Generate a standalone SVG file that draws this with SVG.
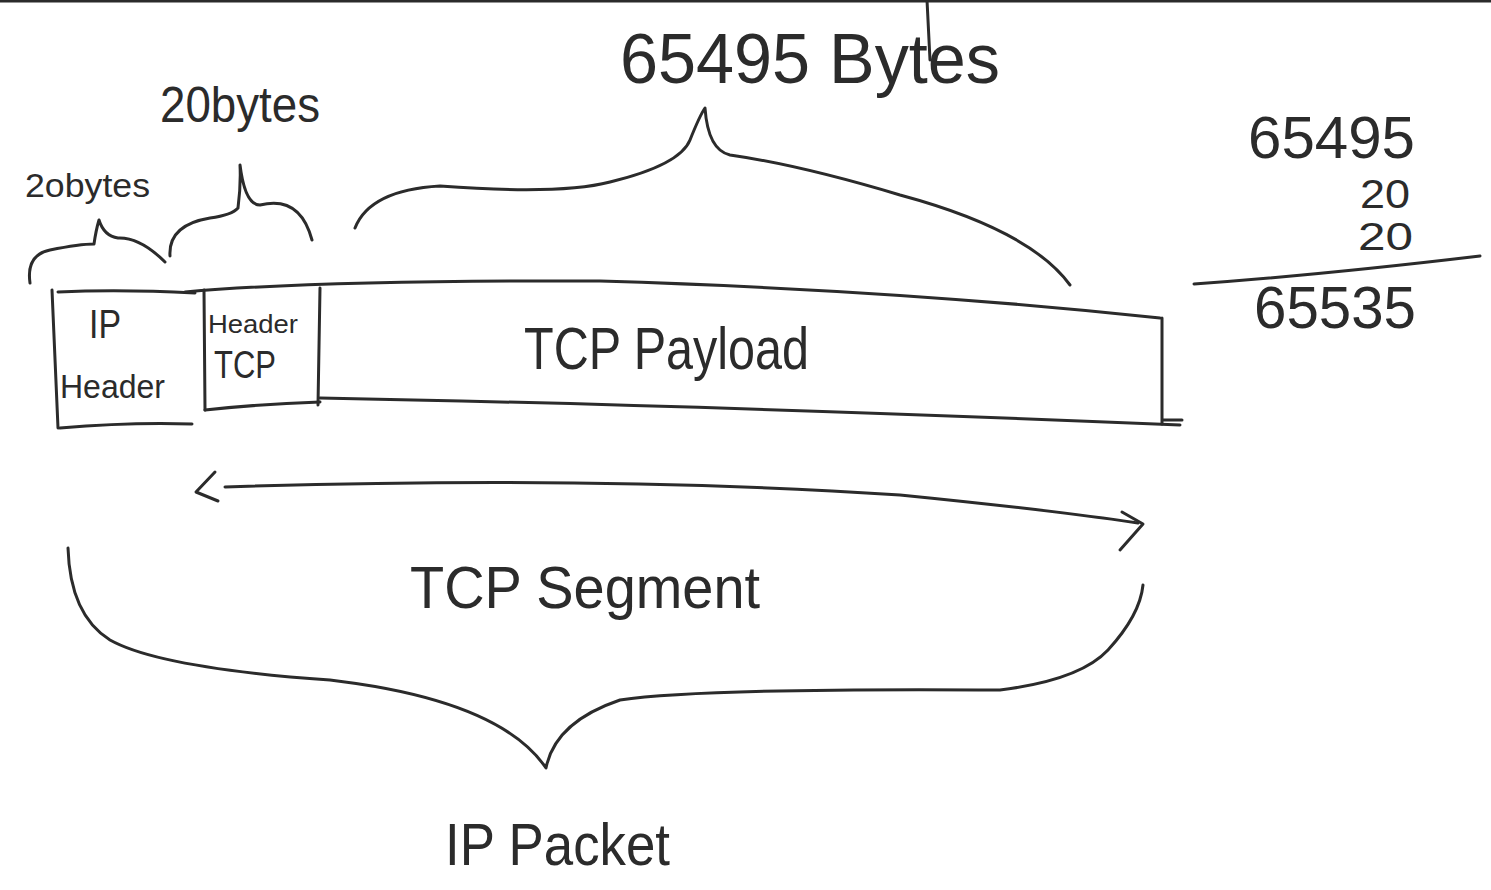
<svg xmlns="http://www.w3.org/2000/svg" width="1491" height="890" viewBox="0 0 1491 890">
<style>
.s{fill:none;stroke:#2b2b2b;stroke-width:3;stroke-linecap:round;stroke-linejoin:round}
.t{font-family:"Liberation Sans","DejaVu Sans",sans-serif;fill:#2b2b2b;font-weight:normal}
</style>
<rect width="1491" height="890" fill="#ffffff"/>
<path class="s" d="M0 1 L1491 1" stroke-width="2"/>
<g id="ip-header">
<path class="s" d="M52 290 L58 428"/>
<path class="s" d="M58 292 Q120 289 195 293"/>
<path class="s" d="M60 428 Q130 422 192 424"/>
<text class="t" x="89" y="338" font-size="40" textLength="32" lengthAdjust="spacingAndGlyphs">IP</text>
<text class="t" x="60" y="398" font-size="34" textLength="105" lengthAdjust="spacingAndGlyphs">Header</text>
</g>
<g id="tcp-header">
<path class="s" d="M204 290 L205 410"/>
<path class="s" d="M205 410 Q260 404 320 402"/>
<path class="s" d="M320 288 L318 405"/>
<text class="t" x="208" y="333" font-size="26" textLength="90" lengthAdjust="spacingAndGlyphs">Header</text>
<text class="t" x="214" y="378" font-size="38" textLength="62" lengthAdjust="spacingAndGlyphs">TCP</text>
</g>
<g id="tcp-payload">
<path class="s" d="M185 292 Q320 280 600 281 Q900 290 1160 318"/>
<path class="s" d="M320 398 Q700 405 1180 425"/>
<path class="s" d="M1162 318 L1162 424"/>
<path class="s" d="M1163 420 L1182 420"/>
<text class="t" x="524" y="369" font-size="60" textLength="285" lengthAdjust="spacingAndGlyphs">TCP Payload</text>
</g>
<g id="connectors">
<path class="s" d="M30 283 Q26 255 50 250 Q80 244 94 244 Q96 230 99 220 Q104 236 118 238 Q140 237 165 262"/>
<path class="s" d="M170 256 Q168 225 210 218 Q232 215 238 208 Q241 185 240 165 Q245 205 260 205 Q300 195 312 240"/>
<path class="s" d="M355 228 Q370 190 440 186 Q560 195 610 182 Q680 165 690 140 Q700 115 705 108 Q708 150 730 155 Q800 165 900 195 Q1030 230 1070 285"/>
<path class="s" d="M225 487 Q600 475 900 495 Q1050 510 1138 523"/>
<path class="s" d="M215 472 L196 492 L218 501"/>
<path class="s" d="M1122 512 L1143 524 L1120 550"/>
<path class="s" d="M68 548 Q70 615 110 640 Q160 668 330 680 Q500 700 546 768 Q555 722 620 700 Q700 688 1000 690 Q1080 680 1108 650 Q1140 615 1143 585"/>
<path class="s" d="M1194 284 Q1320 275 1480 256"/>
<path class="s" d="M927 0 L930 60" stroke-width="2"/>
</g>
<g id="labels">
<text class="t" x="620" y="83" font-size="70" textLength="380" lengthAdjust="spacingAndGlyphs">65495 Bytes</text>
<text class="t" x="160" y="122" font-size="50" textLength="160" lengthAdjust="spacingAndGlyphs">20bytes</text>
<text class="t" x="25" y="197" font-size="34" textLength="125" lengthAdjust="spacingAndGlyphs">2obytes</text>
<text class="t" x="410" y="608" font-size="60" textLength="350" lengthAdjust="spacingAndGlyphs">TCP Segment</text>
<text class="t" x="445" y="865" font-size="60" textLength="225" lengthAdjust="spacingAndGlyphs">IP Packet</text>
</g>
<g id="sum">
<text class="t" x="1248" y="158" font-size="60" textLength="167" lengthAdjust="spacingAndGlyphs">65495</text>
<text class="t" x="1360" y="208" font-size="40" textLength="50" lengthAdjust="spacingAndGlyphs">20</text>
<text class="t" x="1358" y="250" font-size="38" textLength="55" lengthAdjust="spacingAndGlyphs">20</text>
<text class="t" x="1254" y="328" font-size="60" textLength="162" lengthAdjust="spacingAndGlyphs">65535</text>
</g>
</svg>
